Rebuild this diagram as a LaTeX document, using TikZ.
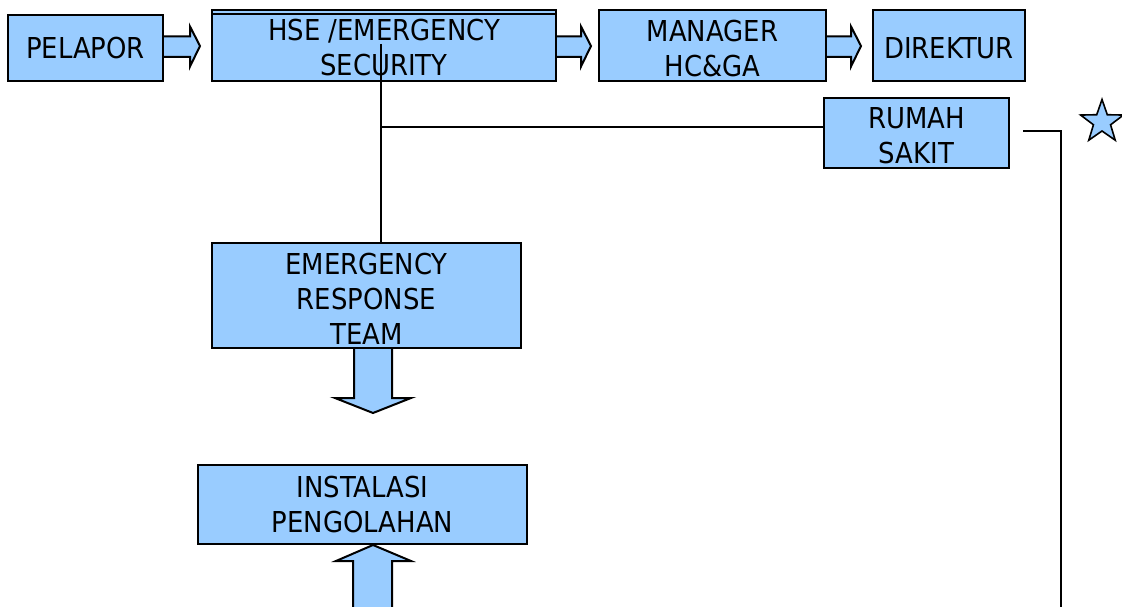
\documentclass[tikz,border=0pt]{standalone}
\usepackage{fontspec}
\setmainfont{DejaVu Sans}[FakeStretch=0.9]
\usetikzlibrary{shapes.geometric}
\definecolor{boxblue}{RGB}{153,204,255}
\newcommand{\tstrut}[1]{\rule{0pt}{#1}}
\begin{document}
\begin{tikzpicture}[x=1pt,y=-1pt,
  box/.style={draw=black, line width=2pt, fill=boxblue, rectangle, inner sep=0pt, align=center,
    font=\fontsize{28.8}{35}\selectfont},
  blk/.style={draw=black, line width=2pt, fill=boxblue, line join=miter},
  conn/.style={draw=black, line width=1.8pt}]
\clip (0,0) rectangle (1122,607);
% boxes
\node[box, minimum width=155, minimum height=66] (pel) at (85.5,48) {PELAPOR};
\node[box, minimum width=344, minimum height=70.5] (hse) at (384,45.75) {\tstrut{24pt}HSE /EMERGENCY\\SECURITY};
\draw[conn] (hse.west |- 0,14) -- (hse.east |- 0,14);
\node[box, minimum width=227, minimum height=70.5] (mgr) at (712.5,45.75) {\tstrut{27pt}MANAGER\\HC\&GA};
\node[box, minimum width=152, minimum height=70.5] (dir) at (949,45.75) {\tstrut{25pt}DIREKTUR};
\node[box, minimum width=185, minimum height=70] (rs) at (916.5,133) {\tstrut{27pt}RUMAH\\SAKIT};
\node[box, minimum width=309, minimum height=105] (ert) at (366.5,295.5) {\tstrut{27pt}EMERGENCY\\RESPONSE\\TEAM};
\node[box, minimum width=329, minimum height=79] (ipal) at (362.5,504.5) {INSTALASI\\PENGOLAHAN};
% block arrows
\draw[blk] (pel.east |- 0,36.5) -- (190,36.5) -- (190,26.5) -- (200,46) -- (190,66.5) -- (190,57) -- (pel.east |- 0,57);
\draw[blk] (hse.east |- 0,36.5) -- (581,36.5) -- (581,26.5) -- (591,46) -- (581,66.5) -- (581,57) -- (hse.east |- 0,57);
\draw[blk] (mgr.east |- 0,36.5) -- (851,36.5) -- (851,26.5) -- (861,46) -- (851,66.5) -- (851,57) -- (mgr.east |- 0,57);
\draw[blk] (354,0 |- ert.south) -- (354,398) -- (335,398) -- (373,413) -- (411,398) -- (392,398) -- (392,0 |- ert.south);
\draw[blk] (353,612) -- (353,561) -- (336,561) -- (373,0 |- ipal.south) -- (411,561) -- (392,561) -- (392,612);
% connectors
\coordinate (hseIn) at (381,44);
\draw[conn] (hseIn) -- (hseIn |- ert.north);
\coordinate (jn) at (381,127);
\draw[conn] (jn) -- (jn -| rs.west);
\coordinate (rsOut) at (1023,131);
\coordinate (rsDown) at (1061,612);
\draw[conn] (rsOut) -- (rsDown |- rsOut) -- (rsDown);
% star
\node[star, star points=5, star point ratio=2.5, draw=black, fill=boxblue, line width=1.6pt,
  minimum size=45, inner sep=0pt] (st) at (1102,122) {};
\end{tikzpicture}
\end{document}
